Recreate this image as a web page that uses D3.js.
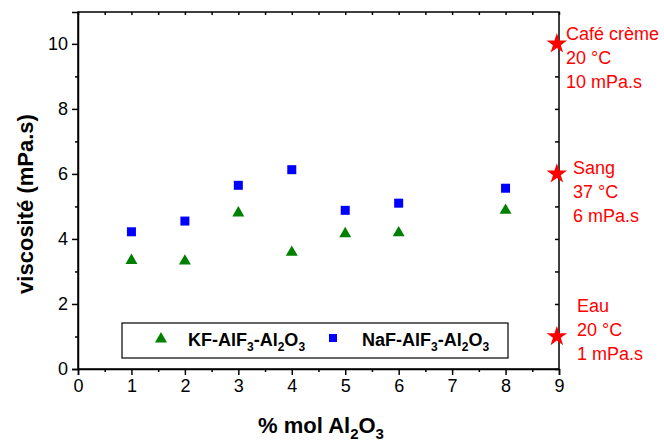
<!DOCTYPE html>
<html><head><meta charset="utf-8">
<script src="https://cdn.jsdelivr.net/npm/d3@7"></script>
<style>body{margin:0;background:#fff}svg{display:block}text{font-family:"Liberation Sans",Arial,sans-serif}</style>
</head><body>
<svg id="c" width="664" height="442"></svg>
<script>
const xValues = [1, 2, 3, 4, 5, 6, 8];
const kfValues = [3.37, 3.35, 4.83, 3.62, 4.19, 4.22, 4.91];
const nafValues = [4.22, 4.55, 5.65, 6.13, 4.88, 5.10, 5.56];
const refX = 8.96;
const refValues = [10, 6, 1];
const refLabels = [["Café crème", "20 °C", "10 mPa.s"], ["Sang", "37 °C", "6 mPa.s"], ["Eau", "20 °C", "1 mPa.s"]];
const seriesNames = ["KF-AlF", "NaF-AlF"];
const xTicks = [0,1,2,3,4,5,6,7,8,9];
const yTicks = [0,2,4,6,8,10];

const svg = d3.select("#c");
const L = 78, R = 559, T = 12, B = 369;
const x = d3.scaleLinear().domain([0, 9]).range([L, R]);
const y = d3.scaleLinear().domain([0, 10.98]).range([B, T]);

// frame
svg.append("rect").attr("x", L).attr("y", T).attr("width", R - L).attr("height", B - T)
  .attr("fill", "none").attr("stroke", "#000").attr("stroke-width", 1.5);

// bottom axis
const gx = svg.append("g").attr("transform", `translate(0,${B})`)
  .call(d3.axisBottom(x).tickValues(xTicks).tickFormat(d3.format("d")).tickSize(6).tickPadding(4));
gx.selectAll(".tick line").attr("stroke-width", 1.5);
svg.append("g").attr("transform", `translate(0,${B})`)
  .call(d3.axisBottom(x).tickValues(d3.range(0.5, 9, 1)).tickFormat("").tickSize(3))
  .call(g => g.select(".domain").remove()).selectAll(".tick line").attr("stroke-width", 1.5);
// top axis inward
svg.append("g").attr("transform", `translate(0,${T})`)
  .call(d3.axisTop(x).tickValues(d3.range(0, 9.01, 0.5)).tickFormat("").tickSize(-3))
  .call(g => g.select(".domain").remove()).selectAll(".tick line").attr("stroke-width", 1.5);
// left axis
const gy = svg.append("g").attr("transform", `translate(${L},0)`)
  .call(d3.axisLeft(y).tickValues(yTicks).tickFormat(d3.format("d")).tickSize(6).tickPadding(4));
gy.selectAll(".tick line").attr("stroke-width", 1.5);
svg.append("g").attr("transform", `translate(${L},0)`)
  .call(d3.axisLeft(y).tickValues([1,3,5,7,9]).tickFormat("").tickSize(3))
  .call(g => g.select(".domain").remove()).selectAll(".tick line").attr("stroke-width", 1.5);
// right axis inward
svg.append("g").attr("transform", `translate(${R},0)`)
  .call(d3.axisRight(y).tickValues(d3.range(0, 11, 1)).tickFormat("").tickSize(-4))
  .call(g => g.select(".domain").remove()).selectAll(".tick line").attr("stroke-width", 1.5);

[gx, gy].forEach(g => { g.select(".domain").attr("stroke-width", 1.5);
  g.selectAll(".tick text").attr("font-size", 18).attr("fill", "#000").attr("font-family", "Liberation Sans, Arial, sans-serif"); });

// axis titles
svg.append("text").attr("transform", "translate(33,204) rotate(-90)").attr("text-anchor", "middle")
  .attr("font-size", 22).attr("font-weight", "bold").text("viscosité (mPa.s)");
const xt = svg.append("text").attr("x", 321).attr("y", 433).attr("text-anchor", "middle")
  .attr("font-size", 22).attr("font-weight", "bold");
xt.append("tspan").text("% mol Al");
xt.append("tspan").attr("font-size", 15).attr("dy", 6).text("2");
xt.append("tspan").attr("dy", -6).text("O");
xt.append("tspan").attr("font-size", 15).attr("dy", 6).text("3");

// data
const tri = d3.symbol().type(d3.symbolTriangle).size(62);
svg.append("g").selectAll("path").data(xValues).join("path")
  .attr("d", tri).attr("fill", "#008000")
  .attr("transform", (d, i) => `translate(${x(d)},${y(kfValues[i]) + 1})`);
svg.append("g").selectAll("rect").data(xValues).join("rect")
  .attr("x", d => x(d) - 4.5).attr("y", (d, i) => y(nafValues[i]) - 4.5)
  .attr("width", 9).attr("height", 9).attr("fill", "#0000ff");

// reference stars
const star = d3.symbol().type(d3.symbolStar).size(130);
svg.append("g").selectAll("path").data(refValues).join("path")
  .attr("d", star).attr("fill", "#ff0000")
  .attr("transform", d => `translate(${x(refX)},${y(d)})`);
const labelPos = [[566, -4], [573, 0], [577, -24]];
refValues.forEach((v, i) => {
  const t = svg.append("text").attr("fill", "#ff0000").attr("font-size", 18);
  refLabels[i].forEach((s, j) => {
    t.append("tspan").attr("x", labelPos[i][0]).attr("y", y(v) + labelPos[i][1] + j * 24).text(s);
  });
});

// legend
svg.append("rect").attr("x", 122).attr("y", 323).attr("width", 386).attr("height", 35)
  .attr("fill", "#fff").attr("stroke", "#000").attr("stroke-width", 1.2);
svg.append("path").attr("d", tri).attr("fill", "#008000").attr("transform", "translate(161,339)");
svg.append("rect").attr("x", 329).attr("y", 334).attr("width", 8).attr("height", 8).attr("fill", "#0000ff");
[[188, 0], [362, 1]].forEach(([lx, k]) => {
  const t = svg.append("text").attr("x", lx).attr("y", 346).attr("font-size", 18).attr("font-weight", "bold");
  t.append("tspan").text(seriesNames[k]);
  t.append("tspan").attr("font-size", 12).attr("dy", 5).text("3");
  t.append("tspan").attr("dy", -5).text("-Al");
  t.append("tspan").attr("font-size", 12).attr("dy", 5).text("2");
  t.append("tspan").attr("dy", -5).text("O");
  t.append("tspan").attr("font-size", 12).attr("dy", 5).text("3");
});
</script>
</body></html>
